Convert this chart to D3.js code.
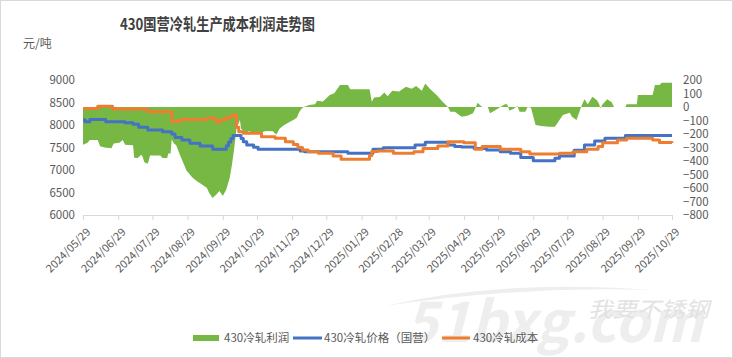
<!DOCTYPE html>
<html>
<head>
<meta charset="utf-8">
<script src="https://cdn.jsdelivr.net/npm/d3@7"></script>
<style>
  body { margin: 0; background: #fff; }
  text { font-family: "Noto Sans CJK SC", "Noto Sans", sans-serif; }
</style>
</head>
<body>
<svg id="chart" width="733" height="358"></svg>
<script>
// chart text
const chartTitle = "430国营冷轧生产成本利润走势图";
const unitLabel = "元/吨";
const seriesNames = ["430冷轧利润", "430冷轧价格（国营）", "430冷轧成本"];

// tick labels
const xTickLabels = ["2024/05/29", "2024/06/29", "2024/07/29", "2024/08/29", "2024/09/29", "2024/10/29",
  "2024/11/29", "2024/12/29", "2025/01/29", "2025/02/28", "2025/03/29", "2025/04/29", "2025/05/29",
  "2025/06/29", "2025/07/29", "2025/08/29", "2025/09/29", "2025/10/29"];
const leftTicks = [6000, 6500, 7000, 7500, 8000, 8500, 9000];
const rightTicks = [-800, -700, -600, -500, -400, -300, -200, -100, 0, 100, 200];

// 430冷轧利润 (right axis)
const profit = [
  ["2024-05-29", -280], ["2024-06-02", -265], ["2024-06-04", -245], ["2024-06-11", -245], ["2024-06-13", -290],
  ["2024-06-17", -300], ["2024-06-23", -305], ["2024-06-25", -270], ["2024-06-30", -265], ["2024-07-03", -245],
  ["2024-07-05", -280], ["2024-07-12", -283], ["2024-07-13", -375], ["2024-07-16", -378], ["2024-07-19", -355],
  ["2024-07-20", -360], ["2024-07-22", -410], ["2024-07-25", -420], ["2024-07-27", -360], ["2024-08-05", -360],
  ["2024-08-07", -378], ["2024-08-11", -378], ["2024-08-12", -345], ["2024-08-14", -344], ["2024-08-15", -240],
  ["2024-08-17", -270], ["2024-08-19", -283], ["2024-08-22", -350], ["2024-08-28", -470], ["2024-09-02", -520],
  ["2024-09-06", -548], ["2024-09-11", -575], ["2024-09-15", -600], ["2024-09-17", -637], ["2024-09-20", -674],
  ["2024-09-23", -650], ["2024-09-26", -622], ["2024-09-29", -660], ["2024-10-02", -612], ["2024-10-05", -526],
  ["2024-10-07", -427], ["2024-10-09", -304], ["2024-10-11", -159], ["2024-10-14", -96], ["2024-10-15", -159],
  ["2024-10-19", -200], ["2024-10-22", -178], ["2024-10-27", -200], ["2024-10-31", -193], ["2024-11-06", -178],
  ["2024-11-12", -180], ["2024-11-15", -205], ["2024-11-18", -160], ["2024-11-22", -133], ["2024-11-27", -110],
  ["2024-11-30", -96], ["2024-12-03", -80], ["2024-12-05", -40], ["2024-12-07", -15], ["2024-12-09", 0],
  ["2024-12-14", 14], ["2024-12-19", 20], ["2024-12-21", 47], ["2024-12-26", 40], ["2025-01-01", 89],
  ["2025-01-05", 101], ["2025-01-10", 163], ["2025-01-17", 163], ["2025-01-19", 131], ["2025-02-05", 131],
  ["2025-02-07", 39], ["2025-02-09", 70], ["2025-02-14", 75], ["2025-02-18", 108], ["2025-02-21", 80],
  ["2025-02-25", 121], ["2025-03-03", 115], ["2025-03-09", 150], ["2025-03-14", 135], ["2025-03-18", 155],
  ["2025-03-23", 120], ["2025-03-26", 175], ["2025-03-30", 135], ["2025-04-05", 89], ["2025-04-10", 40],
  ["2025-04-15", 0], ["2025-04-17", -35], ["2025-04-21", -35], ["2025-04-27", -72], ["2025-05-02", -64],
  ["2025-05-07", -47], ["2025-05-09", -10], ["2025-05-11", 32], ["2025-05-15", 0], ["2025-05-20", 0],
  ["2025-05-22", -47], ["2025-05-28", -17], ["2025-06-04", 20], ["2025-06-06", 20], ["2025-06-08", -25],
  ["2025-06-11", -17], ["2025-06-15", 8], ["2025-06-17", -35], ["2025-06-22", -35], ["2025-06-24", 0],
  ["2025-06-27", -5], ["2025-07-01", -133], ["2025-07-06", -141], ["2025-07-13", -146], ["2025-07-18", -146],
  ["2025-07-20", -123], ["2025-07-25", -59], ["2025-07-31", -42], ["2025-08-02", -72], ["2025-08-06", -96],
  ["2025-08-08", -50], ["2025-08-10", 0], ["2025-08-13", 57], ["2025-08-16", 20], ["2025-08-20", 76],
  ["2025-08-24", 50], ["2025-08-26", 20], ["2025-08-27", -10], ["2025-08-29", 20], ["2025-09-02", 57],
  ["2025-09-06", 35], ["2025-09-08", 0], ["2025-09-18", 0], ["2025-09-19", 20], ["2025-09-28", 20],
  ["2025-09-29", 89], ["2025-10-12", 89], ["2025-10-14", 163], ["2025-10-18", 163], ["2025-10-20", 180],
  ["2025-10-29", 180]
];

// 430冷轧价格（国营） (left axis)
const price = [
  ["2024-05-29", 8110], ["2024-05-31", 8075], ["2024-06-04", 8120], ["2024-06-18", 8075], ["2024-07-05", 8050],
  ["2024-07-12", 8015], ["2024-07-17", 7950], ["2024-07-25", 7890], ["2024-08-07", 7850], ["2024-08-15", 7800],
  ["2024-08-18", 7720], ["2024-08-24", 7665], ["2024-08-31", 7595], ["2024-09-09", 7535], ["2024-09-20", 7460],
  ["2024-10-02", 7540], ["2024-10-04", 7620], ["2024-10-06", 7700], ["2024-10-08", 7765], ["2024-10-15", 7700],
  ["2024-10-17", 7630], ["2024-10-20", 7555], ["2024-10-26", 7505], ["2024-10-30", 7460], ["2024-12-06", 7420],
  ["2024-12-10", 7405], ["2025-01-17", 7370], ["2025-02-08", 7460], ["2025-02-17", 7495], ["2025-03-17", 7555],
  ["2025-03-26", 7615], ["2025-04-15", 7555], ["2025-04-21", 7525], ["2025-04-27", 7510], ["2025-05-08", 7480],
  ["2025-05-19", 7445], ["2025-05-31", 7405], ["2025-06-09", 7370], ["2025-06-18", 7280], ["2025-06-29", 7205],
  ["2025-07-18", 7260], ["2025-07-22", 7310], ["2025-08-04", 7440], ["2025-08-13", 7555], ["2025-08-22", 7645],
  ["2025-08-31", 7705], ["2025-09-18", 7765], ["2025-10-29", 7765]
];

// 430冷轧成本 (left axis)
const cost = [
  ["2024-05-29", 8365], ["2024-06-11", 8418], ["2024-06-24", 8356], ["2024-07-25", 8295], ["2024-08-15", 8080],
  ["2024-08-22", 8120], ["2024-09-15", 8148], ["2024-09-23", 8075], ["2024-09-27", 8110], ["2024-10-01", 8150],
  ["2024-10-05", 8190], ["2024-10-08", 8220], ["2024-10-11", 7950], ["2024-10-13", 7850], ["2024-10-17", 7815],
  ["2024-11-02", 7740], ["2024-11-14", 7705], ["2024-11-23", 7630], ["2024-11-30", 7565], ["2024-12-04", 7500],
  ["2024-12-08", 7445], ["2024-12-13", 7405], ["2024-12-22", 7370], ["2025-01-04", 7310], ["2025-01-11", 7240],
  ["2025-02-05", 7320], ["2025-02-07", 7410], ["2025-02-12", 7420], ["2025-02-26", 7370], ["2025-03-16", 7405],
  ["2025-03-24", 7480], ["2025-04-06", 7535], ["2025-04-15", 7630], ["2025-04-29", 7605], ["2025-05-09", 7460],
  ["2025-05-15", 7520], ["2025-05-31", 7460], ["2025-06-18", 7405], ["2025-06-26", 7355], ["2025-07-22", 7370],
  ["2025-08-03", 7405], ["2025-08-15", 7460], ["2025-08-25", 7520], ["2025-08-29", 7605], ["2025-09-11", 7665],
  ["2025-09-19", 7705], ["2025-10-12", 7665], ["2025-10-18", 7610], ["2025-10-29", 7600]
];

const GREEN = "#76b843", BLUE = "#4472c4", ORANGE = "#ed7d31", LABEL = "#595959";

const svg = d3.select("#chart");
const parse = d3.timeParse("%Y-%m-%d");
const parseTick = d3.timeParse("%Y/%m/%d");
const fmtTick = d3.timeFormat("%Y/%m/%d");

// frame
svg.append("rect")
  .attr("x", 0.5).attr("y", 0.5).attr("width", 732).attr("height", 357)
  .attr("fill", "#fff").attr("stroke", "#d9d9d9");

// watermark (site logo, very light)
const wm = svg.append("g").attr("class", "watermark");
wm.append("path")
  .attr("d", "M385,306 Q500,279 650,290 Q520,286 385,306 Z")
  .attr("fill", "#eeeeee");
wm.append("text")
  .attr("x", 405).attr("y", 342)
  .attr("font-size", 56).attr("font-weight", "bold").attr("font-style", "italic")
  .attr("fill", "#eeeeee")
  .attr("textLength", 298).attr("lengthAdjust", "spacingAndGlyphs")
  .text("51bxg.com");
wm.append("text")
  .attr("x", 588).attr("y", 317)
  .attr("font-size", 21).attr("font-style", "italic")
  .attr("fill", "#e2e2e2")
  .attr("textLength", 121).attr("lengthAdjust", "spacingAndGlyphs")
  .text("我要不锈钢");

// scales
const x = d3.scaleTime()
  .domain([parseTick(xTickLabels[0]), parseTick(xTickLabels[xTickLabels.length - 1])])
  .range([83, 672]);
const yL = d3.scaleLinear().domain([6000, 9000]).range([215, 80]);
const yR = d3.scaleLinear().domain([-800, 200]).range([215, 80]);

// profit area
const area = d3.area()
  .x(d => x(parse(d[0])))
  .y0(yR(0))
  .y1(d => yR(d[1]));

svg.append("path")
  .datum(profit)
  .attr("fill", GREEN)
  .attr("d", area);

// lines
const lineL = d3.line()
  .x(d => x(parse(d[0])))
  .y(d => yL(d[1]))
  .curve(d3.curveStepAfter);

svg.append("path")
  .datum(price)
  .attr("fill", "none")
  .attr("stroke", BLUE)
  .attr("stroke-width", 3)
  .attr("stroke-linejoin", "round")
  .attr("d", lineL);

svg.append("path")
  .datum(cost)
  .attr("fill", "none")
  .attr("stroke", ORANGE)
  .attr("stroke-width", 3)
  .attr("stroke-linejoin", "round")
  .attr("d", lineL);

// x axis
const xAxis = svg.append("g")
  .attr("transform", "translate(0,215)")
  .call(d3.axisBottom(x)
    .tickValues(xTickLabels.map(parseTick))
    .tickFormat(fmtTick)
    .tickSize(5)
    .tickSizeOuter(0));
xAxis.select(".domain").attr("stroke", "#d9d9d9");
xAxis.selectAll(".tick line").attr("stroke", "#d9d9d9");
xAxis.selectAll(".tick text")
  .attr("x", 0).attr("y", 0).attr("dy", "0.35em")
  .attr("transform", "translate(5,15) rotate(-45)")
  .style("text-anchor", "end")
  .attr("fill", LABEL)
  .attr("font-size", 11);

// left axis
const leftAxis = svg.append("g")
  .attr("transform", "translate(83,0)")
  .call(d3.axisLeft(yL).tickValues(leftTicks).tickFormat(d3.format("d")).tickSize(0).tickPadding(8));
leftAxis.select(".domain").remove();
leftAxis.selectAll("text").attr("fill", LABEL).attr("font-size", 11.5);

// right axis
const rightAxis = svg.append("g")
  .attr("transform", "translate(672,0)")
  .call(d3.axisRight(yR).tickValues(rightTicks).tickFormat(d3.format("d")).tickSize(0).tickPadding(11));
rightAxis.select(".domain").remove();
rightAxis.selectAll("text").attr("fill", LABEL).attr("font-size", 11.5);

// title and unit
svg.append("text")
  .attr("x", 120).attr("y", 30)
  .attr("font-size", 16).attr("font-weight", "bold")
  .attr("fill", "#404040")
  .attr("textLength", 195).attr("lengthAdjust", "spacingAndGlyphs")
  .text(chartTitle);

svg.append("text")
  .attr("x", 23).attr("y", 48)
  .attr("font-size", 12).attr("fill", LABEL)
  .text(unitLabel);

// legend
const legend = svg.append("g").attr("class", "legend").attr("font-size", 11.5).attr("fill", LABEL);
legend.append("rect").attr("x", 193).attr("y", 335).attr("width", 26).attr("height", 6).attr("fill", GREEN);
legend.append("text").attr("x", 224).attr("y", 342).text(seriesNames[0]);
legend.append("line").attr("x1", 293).attr("x2", 322).attr("y1", 338).attr("y2", 338)
  .attr("stroke", BLUE).attr("stroke-width", 3);
legend.append("text").attr("x", 324).attr("y", 342).text(seriesNames[1]);
legend.append("line").attr("x1", 442).attr("x2", 470).attr("y1", 338).attr("y2", 338)
  .attr("stroke", ORANGE).attr("stroke-width", 3);
legend.append("text").attr("x", 473).attr("y", 342).text(seriesNames[2]);
</script>
</body>
</html>
